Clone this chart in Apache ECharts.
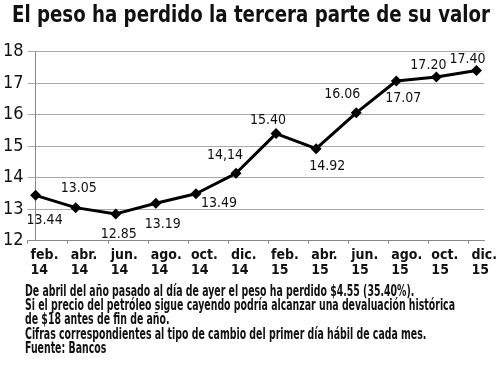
<!DOCTYPE html>
<html><head><meta charset="utf-8">
<script src="https://cdn.jsdelivr.net/npm/echarts@6/dist/echarts.min.js"></script>
<style>html,body{margin:0;padding:0;background:#fff}#c{width:500px;height:371px}</style>
</head><body><div id="c"></div>
<script>
const categories = ["feb.\n14","abr.\n14","jun.\n14","ago.\n14","oct.\n14","dic.\n14","feb.\n15","abr.\n15","jun.\n15","ago.\n15","oct.\n15","dic.\n15"];
const values = [13.44,13.05,12.85,13.19,13.49,14.14,15.40,14.92,16.06,17.07,17.20,17.40];
const valueLabels = ["13.44","13.05","12.85","13.19","13.49","14,14","15.40","14.92","16.06","17.07","17.20","17.40"];
const yTicks = [12,13,14,15,16,17,18];
const titleText = "El peso ha perdido la tercera parte de su valor";
const noteLines = [
  "De abril del año pasado al día de ayer el peso ha perdido $4.55 (35.40%).",
  "Si el precio del petróleo sigue cayendo podría alcanzar una devaluación histórica",
  "de $18 antes de fin de año.",
  "Cifras correspondientes al tipo de cambio del primer día hábil de cada mes.",
  "Fuente: Bancos"
];
// label offsets (style only)
const labelOffsets = [[9,25],[3,-19],[3,20],[7,21],[23,10],[-11,-18],[-8,-13],[11,18],[-14,-18],[7,17],[-8,-12],[-9,-11]];

const FONT = "'DejaVu Sans Condensed','DejaVu Sans',sans-serif";
function measure(text, font){
  const c=document.createElement('canvas').getContext('2d');
  c.font=font; return c.measureText(text).width;
}
const titleFont = "bold 23px 'DejaVu Sans Condensed'";
const titleScale = 478 / measure(titleText, titleFont);
const noteFont = "bold 15px 'DejaVu Sans Condensed'";
const noteScale = 430 / measure(noteLines[1], noteFont);

const chart = echarts.init(document.getElementById('c'), null, {renderer:'canvas'});
const seriesData = values.map((v,i)=>({
  value:[i,v],
  label:{offset:labelOffsets[i]}
}));
chart.setOption({
  animation:false,
  grid:{left:27,right:15,top:51.7,bottom:130.3,containLabel:false},
  xAxis:[{
    type:'value',min:-0.2,max:11.2,interval:1,
    axisLine:{show:true,lineStyle:{color:'#888',width:1}},
    axisTick:{show:true,length:3,lineStyle:{color:'#888'}},
    splitLine:{show:false},
    axisLabel:{
      show:true,align:'left',margin:7,padding:[0,0,0,3],
      fontFamily:FONT,fontSize:14,fontWeight:'bold',color:'#111',lineHeight:15,
      showMaxLabel:false,
      formatter:function(v){const i=Math.round(v+0.2); return (v<11 && i>=0 && i<categories.length)?categories[i]:'';}
    }
  }],
  yAxis:{
    type:'value',min:yTicks[0],max:yTicks[yTicks.length-1],interval:1,
    axisLine:{show:true,lineStyle:{color:'#888',width:1}},
    axisTick:{show:false},
    splitLine:{show:true,lineStyle:{color:'#aaa',width:1}},
    axisLabel:{fontFamily:FONT,fontSize:18,color:'#111',margin:4}
  },
  series:[{
    type:'line',data:seriesData,
    lineStyle:{color:'#000',width:3},
    itemStyle:{color:'#000'},
    symbol:'diamond',symbolSize:11,
    label:{show:true,position:'inside',fontFamily:FONT,fontSize:14,color:'#111',
      formatter:function(p){return valueLabels[p.dataIndex];}}
  }],
  graphic:[{
    type:'text',x:12,y:5,scaleX:titleScale,scaleY:1,originX:0,originY:0,
    style:{text:titleText,font:titleFont,fill:'#111',textVerticalAlign:'top'}
  }].concat(noteLines.map((t,k)=>({
    type:'text',x:25,y:284.5+k*14.25,scaleX:noteScale,originX:0,originY:0,
    style:{text:t,font:noteFont,fill:'#111',textVerticalAlign:'top'}
  })))
});
</script></body></html>
